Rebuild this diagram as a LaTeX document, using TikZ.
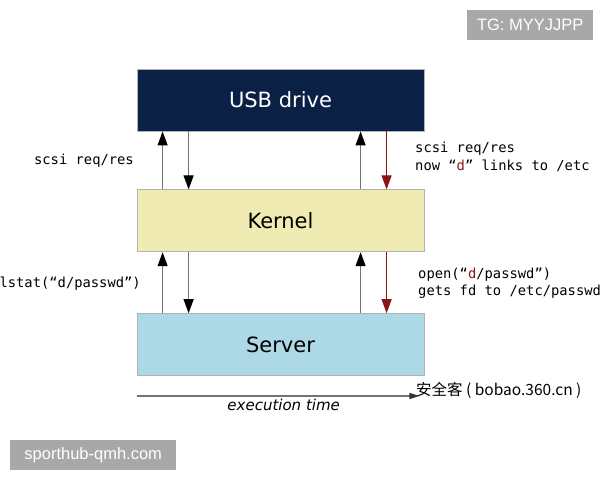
\documentclass[tikz,border=0pt]{standalone}
\usepackage{fontspec}
\setmainfont{DejaVu Sans}
\setmonofont{DejaVu Sans Mono}
\newfontfamily\cjkfont{Noto Sans CJK SC}
\newfontfamily\markfont{Liberation Sans}
\usepackage{xcolor}
\usepackage{tikz}
\usetikzlibrary{positioning, arrows.meta}
\definecolor{usbnavy}{HTML}{0B2045}
\definecolor{kernelyellow}{HTML}{F0EBB2}
\definecolor{serverblue}{HTML}{ADD8E6}
\definecolor{linkred}{HTML}{8E1414}
\definecolor{markgray}{HTML}{A8A8A8}

\begin{document}
\begin{tikzpicture}[x=1pt, y=-1pt,
    layer/.style={draw=gray!60, line width=0.8pt, minimum width=287pt, minimum height=62pt,
                  inner sep=0pt, font=\fontsize{21}{25}\selectfont},
    call/.style={draw=black!55, line width=1.1pt, -{Triangle[length=14pt, width=10pt, color=black]}},
    link/.style={draw=linkred, line width=1.1pt, -{Triangle[length=14pt, width=10pt, color=linkred]}},
    monolabel/.style={inner sep=0pt, align=left, font=\ttfamily\fontsize{13.8}{17.5}\selectfont},
    markbox/.style={fill=markgray, text=white, inner sep=0pt, font=\markfont\fontsize{16.5}{20}\selectfont}]
  \useasboundingbox (0,0) rectangle (600,480);

  \node[layer, fill=usbnavy, text=white] (usb) at (280.5,100) {USB drive};
  \node[layer, fill=kernelyellow, below=58pt of usb] (kernel) {Kernel};
  \node[layer, fill=serverblue, below=61pt of kernel] (server) {Server};

  \draw[call] ([xshift=26pt]kernel.north west) -- ([xshift=26pt]usb.south west);
  \draw[call] ([xshift=52pt]usb.south west) -- ([xshift=52pt]kernel.north west);
  \draw[call] ([xshift=224pt]kernel.north west) -- ([xshift=224pt]usb.south west);
  \draw[link] ([xshift=250pt]usb.south west) -- ([xshift=250pt]kernel.north west);

  \draw[call] ([xshift=26pt]server.north west) -- ([xshift=26pt]kernel.south west);
  \draw[call] ([xshift=52pt]kernel.south west) -- ([xshift=52pt]server.north west);
  \draw[call] ([xshift=224pt]server.north west) -- ([xshift=224pt]kernel.south west);
  \draw[link] ([xshift=250pt]kernel.south west) -- ([xshift=250pt]server.north west);

  \node[monolabel, anchor=east] (scsileft) at (134,161) {scsi req/res};
  \node[monolabel, anchor=west] (scsiright) at (415,157)
    {scsi req/res\\now “\textcolor{linkred}{d}” links to /etc};
  \node[monolabel, anchor=east] (lstat) at (141,284) {lstat(“d/passwd”)};
  \node[monolabel, anchor=west] (open) at (418,283)
    {open(“\textcolor{linkred}{d}/passwd”)\\gets fd to /etc/passwd};

  \coordinate (tstart) at ([yshift=-20pt]server.south west);
  \coordinate (tend) at ([xshift=-5pt, yshift=-20pt]server.south east);
  \draw[draw=black!55, line width=1.3pt, -{Triangle[length=10pt, width=6pt, color=black!80]}]
    (tstart) -- (tend)
    node[pos=0.52, below=-1pt, font=\itshape\fontsize{15}{18}\selectfont] (exectime) {execution time};

  \node[anchor=west, inner sep=0pt, font=\cjkfont\fontsize{15.5}{18}\selectfont] (bobao) at (416,390)
    {安全客 ( bobao.360.cn )};
  \node[markbox, minimum width=126pt, minimum height=30pt, anchor=north west] (tgmark) at (467,10) {TG: MYYJJPP};
  \node[markbox, minimum width=166pt, minimum height=30pt, anchor=north west] (hubmark) at (10,440) {sporthub-qmh.com};
\end{tikzpicture}
\end{document}
